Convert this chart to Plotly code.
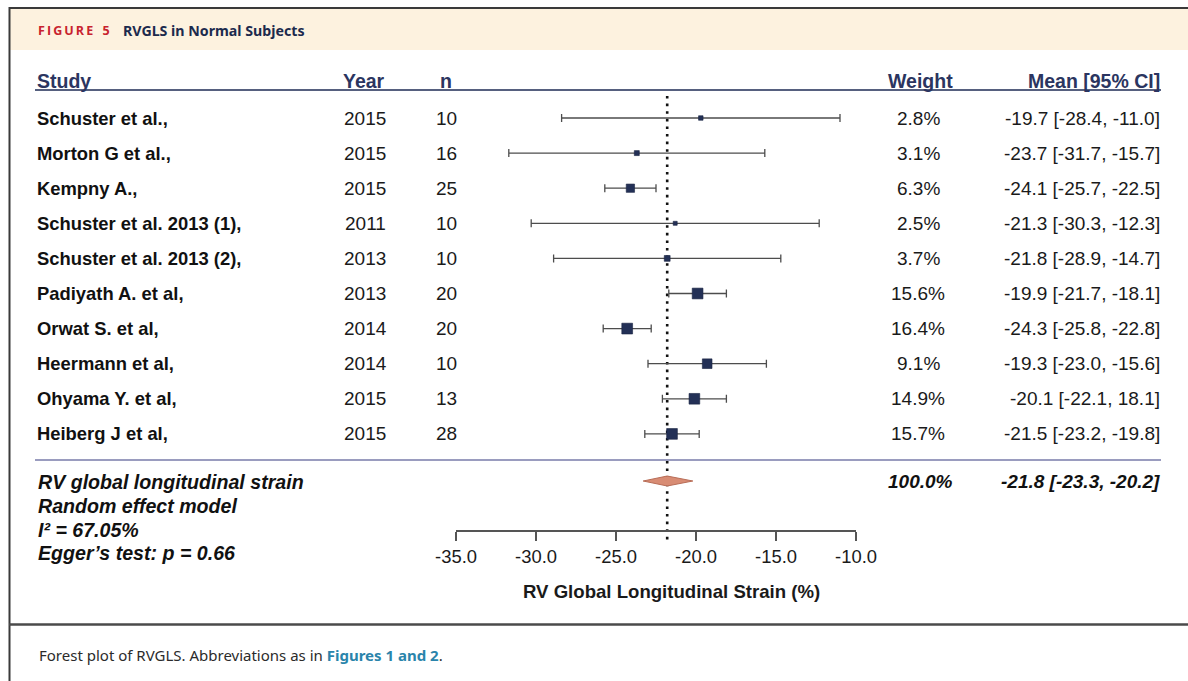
import math
import plotly.graph_objects as go

# ---- data -------------------------------------------------------------
studies = ["Schuster et al.,", "Morton G et al.,", "Kempny A.,",
           "Schuster et al. 2013 (1),", "Schuster et al. 2013 (2),",
           "Padiyath A. et al,", "Orwat S. et al,", "Heermann et al,",
           "Ohyama Y. et al,", "Heiberg J et al,"]
years = [2015, 2015, 2015, 2011, 2013, 2013, 2014, 2014, 2015, 2015]
n_subj = [10, 16, 25, 10, 10, 20, 20, 10, 13, 28]
weights = [2.8, 3.1, 6.3, 2.5, 3.7, 15.6, 16.4, 9.1, 14.9, 15.7]
means = [-19.7, -23.7, -24.1, -21.3, -21.8, -19.9, -24.3, -19.3, -20.1, -21.5]
ci_low = [-28.4, -31.7, -25.7, -30.3, -28.9, -21.7, -25.8, -23.0, -22.1, -23.2]
ci_high = [-11.0, -15.7, -22.5, -12.3, -14.7, -18.1, -22.8, -15.6, -18.1, -19.8]
ci_text = ["-19.7 [-28.4, -11.0]", "-23.7 [-31.7, -15.7]", "-24.1 [-25.7, -22.5]",
           "-21.3 [-30.3, -12.3]", "-21.8 [-28.9, -14.7]", "-19.9 [-21.7, -18.1]",
           "-24.3 [-25.8, -22.8]", "-19.3 [-23.0, -15.6]", "-20.1 [-22.1, 18.1]",
           "-21.5 [-23.2, -19.8]"]

pooled_mean = -21.8
pooled_low = -23.3
pooled_high = -20.2
pooled_weight = 100.0
model_lines = ["RV global longitudinal strain", "Random effect model",
               "I² = 67.05%", "Egger’s test: p = 0.66"]

headers = ["Study", "Year", "n", "Weight", "Mean [95% CI]"]
x_ticks = [-35, -30, -25, -20, -15, -10]

# ---- layout geometry (pixels) ------------------------------------------
W, H = 1188, 681
ROW0, ROW_STEP = 118, 35.1
SUMMARY_ROW = (481 - ROW0) / ROW_STEP

FONT = "Liberation Sans, Arial, Helvetica, sans-serif"
NAVY_HEAD = "#2b3560"
TXT = "#1a1a1a"


def px_x(p):
    return p / W


def px_y(p):
    return 1 - p / H


def row_of(p):
    return (p - ROW0) / ROW_STEP


def box_size(w):
    # square side grows with study weight and levels off for large weights
    return 4 + 7 * (1 - math.exp(-(w - 2.5) / 4))


rows = list(range(len(studies)))

fig = go.Figure()

# study estimates with their confidence intervals
fig.add_trace(go.Scatter(
    x=means, y=rows, mode="markers",
    marker=dict(symbol="square", color="#233056", opacity=1,
                size=[box_size(w) for w in weights],
                line=dict(color="#1a2442", width=0.6)),
    error_x=dict(type="data", symmetric=False,
                 array=[h - m for h, m in zip(ci_high, means)],
                 arrayminus=[m - l for m, l in zip(means, ci_low)],
                 color="#4d4d4d", thickness=1.3, width=4),
    hoverinfo="skip", showlegend=False,
))

# pooled estimate diamond
dh = 5 / ROW_STEP
fig.add_trace(go.Scatter(
    x=[pooled_low, pooled_mean, pooled_high, pooled_mean, pooled_low],
    y=[SUMMARY_ROW, SUMMARY_ROW - dh, SUMMARY_ROW, SUMMARY_ROW + dh, SUMMARY_ROW],
    mode="lines", fill="toself", fillcolor="#d88c74",
    line=dict(color="#b86d57", width=1),
    hoverinfo="skip", showlegend=False,
))

shapes = []
# frame: header band, borders, caption separator
shapes.append(dict(type="rect", xref="paper", yref="paper",
                   x0=px_x(9), x1=1.0, y0=px_y(50), y1=px_y(8),
                   fillcolor="#fdf2df", line=dict(width=0), layer="below"))
shapes.append(dict(type="line", xref="paper", yref="paper",
                   x0=px_x(9), x1=1.0, y0=px_y(8), y1=px_y(8),
                   line=dict(color="#3a3a3a", width=2)))
shapes.append(dict(type="line", xref="paper", yref="paper",
                   x0=px_x(9.5), x1=px_x(9.5), y0=0, y1=px_y(7),
                   line=dict(color="#3a3a3a", width=2)))
shapes.append(dict(type="line", xref="paper", yref="paper",
                   x0=px_x(9), x1=1.0, y0=px_y(624.5), y1=px_y(624.5),
                   line=dict(color="#4a4a4a", width=2.5)))
# header rule and summary separator
shapes.append(dict(type="line", xref="paper", yref="paper",
                   x0=px_x(35), x1=px_x(1161), y0=px_y(90), y1=px_y(90),
                   line=dict(color="#56607f", width=2)))
shapes.append(dict(type="line", xref="paper", yref="paper",
                   x0=px_x(35), x1=px_x(1161), y0=px_y(460), y1=px_y(460),
                   line=dict(color="#9a9cbf", width=2)))
# reference line at pooled mean
shapes.append(dict(type="line", xref="x", yref="y",
                   x0=pooled_mean, x1=pooled_mean,
                   y0=row_of(96), y1=row_of(541),
                   line=dict(color="#111111", width=2.6, dash="2.6px,5px"),
                   layer="below"))

annotations = []


def text(x, y, s, size=19, anchor="left", yref="paper", color=TXT,
         bold=False, italic=False, family=FONT):
    annotations.append(dict(
        x=px_x(x), y=y, xref="paper", yref=yref, text=s, showarrow=False,
        xanchor=anchor, yanchor="middle", align=anchor,
        font=dict(family=family, size=size, color=color,
                  weight="bold" if bold else "normal",
                  style="italic" if italic else "normal")))


# figure title in the header band
text(36, px_y(30), "F\u2009I\u2009G\u2009U\u2009R\u2009E\u2002 5", size=12.5,
     color="#c8232e", bold=True, family="Open Sans, sans-serif")
text(121, px_y(30), "RVGLS in Normal Subjects", size=14.2, color="#1c2a4d",
     bold=True, family="Noto Sans, Open Sans, sans-serif")

# column headers
head_pos = [(35, "left"), (387, "right"), (446, "center"), (920, "center"), (1162, "right")]
for h, (x, a) in zip(headers, head_pos):
    text(x, px_y(81), h, size=19.5, anchor=a, color=NAVY_HEAD, bold=True)

# table rows
for i in rows:
    text(35, i, studies[i], size=18.4, bold=True, yref="y", color="#111111")
    text(365, i, str(years[i]), size=19, anchor="center", yref="y")
    text(446, i, str(n_subj[i]), size=19, anchor="center", yref="y")
    text(918, i, f"{weights[i]:.1f}%", size=19, anchor="center", yref="y")
    text(1162, i, ci_text[i], size=19, anchor="right", yref="y")

# summary row
text(920, SUMMARY_ROW, f"{pooled_weight:.1f}%", size=19, anchor="center",
     yref="y", bold=True, italic=True, color="#111111")
text(1162, SUMMARY_ROW, f"{pooled_mean:.1f} [{pooled_low:.1f}, {pooled_high:.1f}]",
     size=19, anchor="right", yref="y", bold=True, italic=True, color="#111111")
for k, line in enumerate(model_lines):
    text(36, px_y(482 + 23.8 * k), line, size=19.6, bold=True, italic=True,
         color="#111111")

# axis title
text(671, px_y(591), "RV Global Longitudinal Strain (%)", size=18.6,
     anchor="center", bold=True, color="#1a1a1a")

# caption
text(37, px_y(655),
     "Forest plot of RVGLS. Abbreviations as in "
     "<span style='color:#2a84ab'><b>Figures 1 and 2</b></span>.",
     size=15, color="#2b2b2b", family="Noto Sans, Open Sans, sans-serif")

fig.update_layout(
    width=W, height=H,
    margin=dict(l=0, r=0, t=0, b=0, pad=0, autoexpand=False),
    paper_bgcolor="white", plot_bgcolor="rgba(0,0,0,0)",
    shapes=shapes, annotations=annotations, showlegend=False,
    xaxis=dict(domain=[px_x(456), px_x(856)], range=[-35, -10],
               anchor="free", position=px_y(531), automargin=False,
               showline=True, linecolor="#555555", linewidth=1.5,
               ticks="outside", ticklen=9, tickwidth=1.5, tickcolor="#555555",
               tickvals=x_ticks, ticktext=[f"{v:.1f}" for v in x_ticks],
               tickfont=dict(family=FONT, size=18.4, color="#1a1a1a"),
               showgrid=False, zeroline=False, fixedrange=True),
    yaxis=dict(domain=[0, 1], range=[row_of(H), row_of(0)], visible=False,
               automargin=False,
               showgrid=False, zeroline=False, fixedrange=True),
)

fig.write_html("out.html")
